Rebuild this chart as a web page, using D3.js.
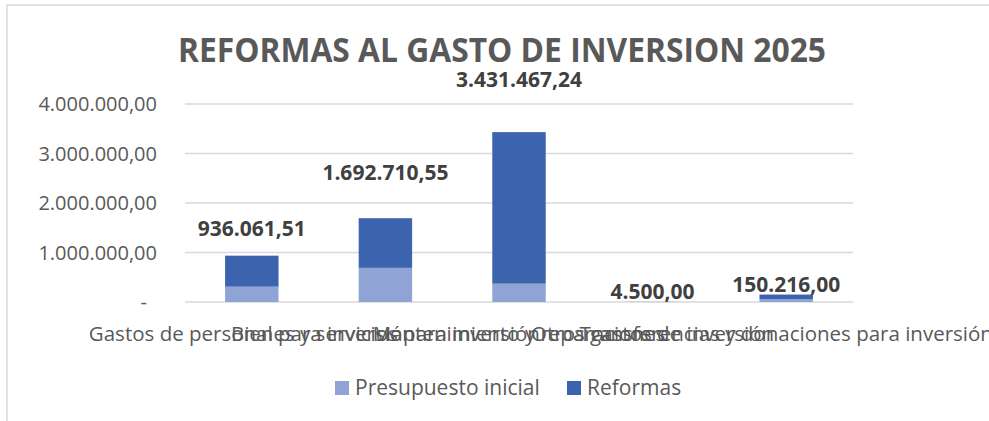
<!DOCTYPE html>
<html>
<head>
<meta charset="utf-8">
<script src="https://cdn.jsdelivr.net/npm/d3@7"></script>
<style>
  body { margin: 0; background: #fff; }
  text { font-family: "Open Sans", "Noto Sans", sans-serif; }
</style>
</head>
<body>
<div id="my_dataviz"></div>
<script>
var width = 989
var height = 421

// Data
var categories = [
    "Gastos de personal para inversión",
    "Bienes y servicios para inversión",
    "Mantenimiento y reparaciones",
    "Otros gastos de inversión",
    "Transferencias y donaciones para inversión"
]
var inicial = [310000, 690000, 370000, 4500, 55000]
var reformas = [626061.51, 1002710.55, 3061467.24, 0, 95216]
var totales = [936061.51, 1692710.55, 3431467.24, 4500, 150216]
var seriesNames = ["Presupuesto inicial", "Reformas"]
var yTicks = [0, 1000000, 2000000, 3000000, 4000000]

var colors = ["#8fa3d4", "#3c63ad"]

var svg = d3.select("#my_dataviz")
    .append("svg")
    .attr("width", width)
    .attr("height", height)

// chart border
svg.append("rect")
    .attr("x", 7).attr("y", 5)
    .attr("width", width + 20).attr("height", height + 20)
    .attr("fill", "none")
    .attr("stroke", "#d9d9d9")
    .attr("stroke-width", 1.5)

var x = d3.scaleBand()
    .domain(categories)
    .range([185, 853])
    .paddingInner(0.6)
    .paddingOuter(0.3)

var y = d3.scaleLinear()
    .domain([0, 4000000])
    .range([302, 104])

var fmt = d3.formatLocale({ decimal: ",", thousands: ".", grouping: [3] }).format(",.2f")

// gridlines
svg.append("g")
    .selectAll("line")
    .data(yTicks)
    .enter()
    .append("line")
    .attr("x1", 185).attr("x2", 853)
    .attr("y1", function (d) { return y(d) })
    .attr("y2", function (d) { return y(d) })
    .attr("stroke", "#d9d9d9")
    .attr("stroke-width", 1.5)

// y labels
svg.append("g")
    .selectAll("text")
    .data(yTicks)
    .enter()
    .append("text")
    .attr("x", function (d) { return d == 0 ? 147 : 157 })
    .attr("y", function (d) { return y(d) })
    .attr("dy", "0.35em")
    .attr("text-anchor", "end")
    .attr("fill", "#595959")
    .style("font-size", "20px")
    .text(function (d) { return d == 0 ? "-" : fmt(d) })

// stacked bars
var rows = categories.map(function (c, i) { return { cat: c, inicial: inicial[i], reformas: reformas[i] } })
var stack = d3.stack().keys(["inicial", "reformas"])(rows)

svg.append("g")
    .selectAll("g")
    .data(stack)
    .enter()
    .append("g")
    .attr("fill", function (d, i) { return colors[i] })
    .selectAll("rect")
    .data(function (d) { return d })
    .enter()
    .append("rect")
    .attr("x", function (d) { return x(d.data.cat) })
    .attr("width", x.bandwidth())
    .attr("y", function (d) { return y(d[1]) })
    .attr("height", function (d) { return y(d[0]) - y(d[1]) })

// total labels
svg.append("g")
    .selectAll("text")
    .data(totales)
    .enter()
    .append("text")
    .attr("x", function (d, i) { return x(categories[i]) + x.bandwidth() / 2 })
    .attr("y", function (d) { return Math.max(80, Math.min(y(d * 1.5) - 4, y(d) - 10)) })
    .attr("dy", "0.35em")
    .attr("text-anchor", "middle")
    .attr("fill", "#404040")
    .style("font-size", "21px")
    .style("font-weight", "bold")
    .text(function (d) { return fmt(d) })

// category labels (overlapping, as in the original)
svg.append("g")
    .selectAll("text")
    .data(categories)
    .enter()
    .append("text")
    .attr("x", function (d) { return x(d) + x.bandwidth() / 2 })
    .attr("y", 334)
    .attr("dy", "0.35em")
    .attr("text-anchor", "middle")
    .attr("fill", "#595959")
    .style("font-size", "20.5px")
    .text(function (d) { return d })

// title
svg.append("text")
    .attr("x", 502)
    .attr("y", 50)
    .attr("dy", "0.35em")
    .attr("text-anchor", "middle")
    .attr("fill", "#595959")
    .attr("textLength", 648)
    .attr("lengthAdjust", "spacingAndGlyphs")
    .style("font-size", "34px")
    .style("font-weight", "bold")
    .text("REFORMAS AL GASTO DE INVERSION 2025")

// legend
var legendX = [335, 567]
var legend = svg.append("g")
    .selectAll("g")
    .data(seriesNames)
    .enter()
    .append("g")
    .attr("transform", function (d, i) { return "translate(" + legendX[i] + ",388)" })
legend.append("rect")
    .attr("x", 0).attr("y", -7)
    .attr("width", 14).attr("height", 14)
    .attr("fill", function (d, i) { return colors[i] })
legend.append("text")
    .attr("x", 20)
    .attr("dy", "0.35em")
    .attr("fill", "#595959")
    .style("font-size", "21px")
    .text(function (d) { return d })
</script>
</body>
</html>
